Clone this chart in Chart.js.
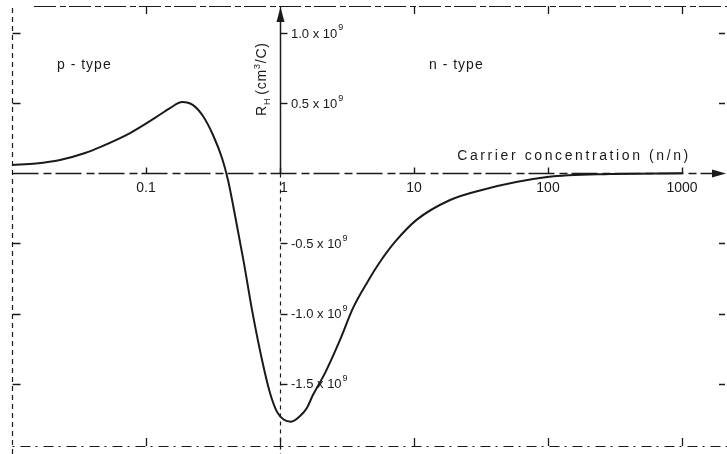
<!DOCTYPE html>
<html>
<head>
<meta charset="utf-8">
<script src="https://cdn.jsdelivr.net/npm/chart.js@4/dist/chart.umd.min.js"></script>
<style>
  html, body { margin: 0; padding: 0; background: #fff; }
  #wrap { width: 727px; height: 454px; }
</style>
</head>
<body>
<div id="wrap"><canvas id="chart"></canvas></div>
<script>
// carrier concentration (n/n) and Hall coefficient R_H in units of 1e9 cm^3/C
const concentration = [0.01, 0.0151, 0.0228, 0.0351, 0.0454, 0.076, 0.1167, 0.151, 0.186, 0.2244, 0.266, 0.316,
  0.369, 0.409, 0.47, 0.538, 0.618, 0.734, 0.842, 0.95, 1.07, 1.21, 1.41, 1.59, 1.76, 2.17, 2.805, 3.51, 4.54, 5.57,
  7.21, 10.5, 18.6, 31.6, 98.5, 290, 1000];
const hallCoefficient = [0.059, 0.070, 0.095, 0.145, 0.187, 0.287, 0.395, 0.465, 0.508, 0.486, 0.408, 0.273,
  0.109, -0.048, -0.34, -0.64, -0.973, -1.33, -1.565, -1.70, -1.756, -1.77, -1.73, -1.67, -1.58, -1.422, -1.187,
  -0.959, -0.767, -0.632, -0.489, -0.33, -0.19, -0.12, -0.027, -0.005, 0];

const xTickValues = [0.1, 1, 10, 100, 1000];
const xTickLabels = ['0.1', '1', '10', '100', '1000'];
const yTickValues = [1.0, 0.5, -0.5, -1.0, -1.5];
const yTickLabels = ['1.0', '0.5', '-0.5', '-1.0', '-1.5'];

const INK = '#1a1a1a';
const FONT = '"Liberation Sans", Arial, sans-serif';

const drawAxes = {
  id: 'drawAxes',
  beforeDatasetsDraw(chart) {
    const {ctx, chartArea, scales: {x, y}} = chart;
    const x0 = Math.round(x.getPixelForValue(1)) + 0.5;
    const y0 = Math.round(y.getPixelForValue(0)) + 0.5;
    const left = Math.round(x.getPixelForValue(0.01)) + 0.5;
    ctx.save();
    ctx.strokeStyle = INK;
    ctx.fillStyle = INK;

    // frame (scanned, broken lines)
    ctx.lineWidth = 1.2;
    ctx.setLineDash([22, 4, 6, 3]);
    ctx.beginPath();
    ctx.moveTo(34, 6.5); ctx.lineTo(chartArea.right, 6.5);
    ctx.stroke();
    ctx.setLineDash([5, 4]);
    ctx.beginPath();
    ctx.moveTo(left, 8); ctx.lineTo(left, chartArea.bottom);
    ctx.stroke();
    ctx.setLineDash([2, 6, 10, 5]);
    ctx.beginPath();
    ctx.moveTo(left, 446.5); ctx.lineTo(chartArea.right, 446.5);
    ctx.stroke();
    ctx.setLineDash([]);
    // frame ticks
    ctx.lineWidth = 1.3;
    yTickValues.forEach(v => {
      const py = Math.round(y.getPixelForValue(v)) + 0.5;
      ctx.beginPath();
      ctx.moveTo(left, py); ctx.lineTo(left + 8, py);
      ctx.moveTo(chartArea.right - 8, py); ctx.lineTo(chartArea.right - 2, py);
      ctx.stroke();
    });
    xTickValues.forEach(v => {
      const px = Math.round(x.getPixelForValue(v)) + 0.5;
      ctx.beginPath();
      ctx.moveTo(px, 6); ctx.lineTo(px, 14);
      ctx.moveTo(px, 446); ctx.lineTo(px, 438);
      ctx.stroke();
    });

    // horizontal axis with arrow
    ctx.lineWidth = 1.5;
    ctx.setLineDash([26, 5, 8, 4]);
    ctx.beginPath();
    ctx.moveTo(left, y0); ctx.lineTo(712, y0);
    ctx.stroke();
    ctx.setLineDash([]);
    ctx.beginPath();
    ctx.moveTo(726, y0); ctx.lineTo(712, y0 - 4); ctx.lineTo(712, y0 + 4);
    ctx.closePath();
    ctx.fill();

    // vertical axis with arrow
    ctx.beginPath();
    ctx.moveTo(x0, 20); ctx.lineTo(x0, y0);
    ctx.stroke();
    ctx.lineWidth = 1.2;
    ctx.setLineDash([4, 4]);
    ctx.beginPath();
    ctx.moveTo(x0, y0); ctx.lineTo(x0, chartArea.bottom);
    ctx.stroke();
    ctx.setLineDash([]);
    ctx.beginPath();
    ctx.moveTo(x0, 7); ctx.lineTo(x0 - 4, 22); ctx.lineTo(x0 + 4, 22);
    ctx.closePath();
    ctx.fill();

    // axis ticks
    ctx.lineWidth = 1.4;
    yTickValues.forEach(v => {
      const py = Math.round(y.getPixelForValue(v)) + 0.5;
      ctx.beginPath();
      ctx.moveTo(x0, py); ctx.lineTo(x0 + 7, py);
      ctx.stroke();
    });
    xTickValues.forEach(v => {
      const px = Math.round(x.getPixelForValue(v)) + 0.5;
      ctx.beginPath();
      ctx.moveTo(px, y0 - 6); ctx.lineTo(px, y0);
      ctx.stroke();
    });
    ctx.restore();
  },
  afterDraw(chart) {
    const {ctx, scales: {x, y}} = chart;
    const x0 = x.getPixelForValue(1);
    const y0 = y.getPixelForValue(0);
    ctx.save();
    ctx.fillStyle = INK;
    ctx.textBaseline = 'middle';

    // y tick labels: "a x 10^9"
    yTickValues.forEach((v, i) => {
      const py = y.getPixelForValue(v);
      let px = x0 + 11;
      ctx.font = '13px ' + FONT;
      ctx.textAlign = 'left';
      const main = yTickLabels[i] + ' x 10';
      ctx.fillText(main, px, py + 1);
      px += ctx.measureText(main).width + 1;
      ctx.font = '9px ' + FONT;
      ctx.fillText('9', px, py - 5);
    });

    // x tick labels
    ctx.font = '14px ' + FONT;
    ctx.textAlign = 'center';
    xTickValues.forEach((v, i) => {
      const px = x.getPixelForValue(v) + (v === 1 ? 4 : 0);
      ctx.fillText(xTickLabels[i], px, y0 + 15);
    });

    // axis titles
    ctx.font = '14px ' + FONT;
    ctx.letterSpacing = '2.6px';
    ctx.fillText('Carrier concentration (n/n)', 574, y0 - 17);
    ctx.letterSpacing = '1px';
    ctx.textAlign = 'left';
    ctx.fillText('p - type', 57, 65);
    ctx.fillText('n - type', 429, 65);

    ctx.save();
    ctx.translate(x0 - 18, 116);
    ctx.rotate(-Math.PI / 2);
    ctx.letterSpacing = '0.8px';
    ctx.font = '14px ' + FONT;
    ctx.fillText('R', 0, 0);
    let w = ctx.measureText('R').width;
    ctx.font = '9px ' + FONT;
    ctx.fillText('H', w, 5);
    w += ctx.measureText('H').width + 3;
    ctx.font = '14px ' + FONT;
    ctx.fillText('(cm', w, 0);
    w += ctx.measureText('(cm').width;
    ctx.font = '9px ' + FONT;
    ctx.fillText('3', w, -5);
    w += ctx.measureText('3').width;
    ctx.font = '14px ' + FONT;
    ctx.fillText('/C)', w, 0);
    ctx.restore();

    ctx.restore();
  }
};

new Chart(document.getElementById('chart'), {
  type: 'scatter',
  data: {
    datasets: [{
      label: 'R_H',
      data: concentration.map((c, i) => ({x: c, y: hallCoefficient[i]})),
      showLine: true,
      borderColor: INK,
      borderWidth: 2,
      pointRadius: 0,
      cubicInterpolationMode: 'monotone'
    }]
  },
  options: {
    responsive: true,
    maintainAspectRatio: false,
    animation: false,
    layout: { padding: 0 },
    plugins: { legend: { display: false }, tooltip: { enabled: false } },
    scales: {
      x: { type: 'logarithmic', min: 0.00813, max: 2168, display: false },
      y: { type: 'linear', min: -2.0, max: 1.235, display: false }
    }
  },
  plugins: [drawAxes]
});
</script>
</body>
</html>
